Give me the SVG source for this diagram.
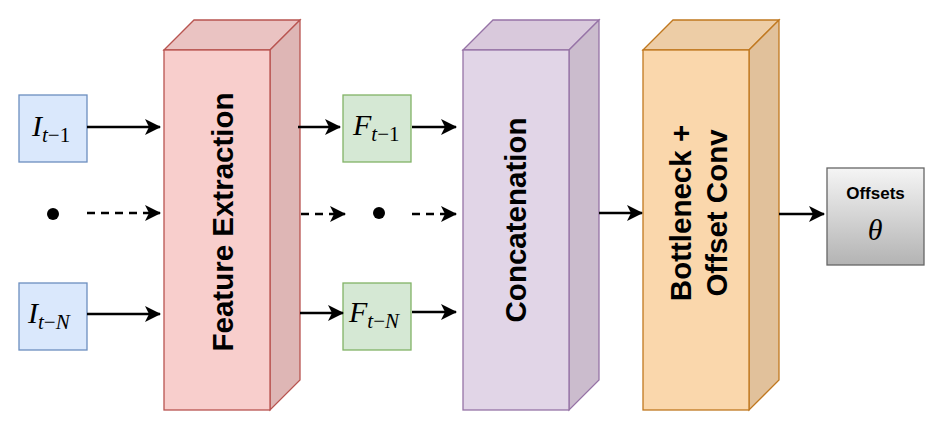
<svg xmlns="http://www.w3.org/2000/svg" width="938" height="424" viewBox="0 0 938 424">
<style>
.lbl{font-family:"Liberation Sans",Arial,sans-serif;font-weight:bold;font-size:29.5px;fill:#000;text-anchor:middle}
.m{font-family:"Liberation Serif","Times New Roman",serif;font-style:italic;font-size:30px;fill:#000}
.s{font-size:21px}
.c{stroke:#000;stroke-width:2.5;fill:none}
.d{stroke-dasharray:8 6}
</style>
<defs>
<marker id="ah" markerWidth="16" markerHeight="16" refX="15" refY="8" orient="auto" markerUnits="userSpaceOnUse"><path d="M0,0 L16,8 L0,16 L4,8 Z" fill="#000"/></marker>
<linearGradient id="g" x1="0" y1="0" x2="0" y2="1"><stop offset="0" stop-color="#f5f5f5"/><stop offset="1" stop-color="#b3b3b3"/></linearGradient>
</defs>
<g id="feature">
<path d="M164,50 L194,20 L300,20 L270,50 Z" fill="#eac3c2" stroke="#b85450" stroke-width="1.3"/>
<path d="M270,50 L300,20 L300,380 L270,410 Z" fill="#deb6b5" stroke="#b85450" stroke-width="1.3"/>
<rect x="164" y="50" width="106" height="360" fill="#f8cecc" stroke="#b85450" stroke-width="1.3"/>
<text class="lbl" transform="translate(233,222) rotate(-90)">Feature Extraction</text>
</g>
<g id="concat">
<path d="M463,50 L493,20 L599,20 L569,50 Z" fill="#d9c9dc" stroke="#9673a6" stroke-width="1.3"/>
<path d="M569,50 L599,20 L599,380 L569,410 Z" fill="#cbbccd" stroke="#9673a6" stroke-width="1.3"/>
<rect x="463" y="50" width="106" height="360" fill="#e1d5e7" stroke="#9673a6" stroke-width="1.3"/>
<text class="lbl" transform="translate(526,220) rotate(-90)">Concatenation</text>
</g>
<g id="bottleneck">
<path d="M643,50 L673,20 L779,20 L749,50 Z" fill="#edcda6" stroke="#c0781f" stroke-width="1.3"/>
<path d="M749,50 L779,20 L779,380 L749,410 Z" fill="#e1c19b" stroke="#c0781f" stroke-width="1.3"/>
<rect x="643" y="50" width="106" height="360" fill="#fad7ac" stroke="#c0781f" stroke-width="1.3"/>
<text class="lbl" transform="translate(691,213) rotate(-90)">Bottleneck +</text>
<text class="lbl" transform="translate(727,213) rotate(-90)">Offset Conv</text>
</g>
<g id="offsets">
<rect x="827" y="168" width="97" height="97" fill="url(#g)" stroke="#666" stroke-width="1.3"/>
<text x="875.5" y="199" font-family="Liberation Sans,Arial,sans-serif" font-weight="bold" font-size="17" text-anchor="middle">Offsets</text>
<text x="875" y="240" class="m" font-size="26" text-anchor="middle">θ</text>
</g>
<g id="i1"><rect x="19" y="95" width="68" height="67" fill="#dae8fc" stroke="#6c8ebf" stroke-width="1.3"/><text x="32" y="136" class="m">I<tspan class="s" dy="6">t</tspan><tspan class="s" font-style="normal">−1</tspan></text></g>
<g id="iN"><rect x="19" y="283" width="68" height="67" fill="#dae8fc" stroke="#6c8ebf" stroke-width="1.3"/><text x="28" y="323" class="m">I<tspan class="s" dy="6">t</tspan><tspan class="s" font-style="normal">−</tspan><tspan class="s">N</tspan></text></g>
<g id="f1"><rect x="343" y="95" width="68" height="67" fill="#d5e8d4" stroke="#82b366" stroke-width="1.3"/><text x="353" y="135" class="m">F<tspan class="s" dy="6">t</tspan><tspan class="s" font-style="normal">−1</tspan></text></g>
<g id="fN"><rect x="343" y="283" width="68" height="67" fill="#d5e8d4" stroke="#82b366" stroke-width="1.3"/><text x="349" y="322" class="m">F<tspan class="s" dy="6">t</tspan><tspan class="s" font-style="normal">−</tspan><tspan class="s">N</tspan></text></g>
<g id="dot1"><circle cx="53" cy="214" r="6" fill="#000"/></g>
<g id="dot2"><circle cx="379" cy="213" r="6" fill="#000"/></g>
<g id="connectors">
<line class="c" x1="87" y1="127" x2="160" y2="127" marker-end="url(#ah)"/>
<line class="c" x1="87" y1="314" x2="160" y2="314" marker-end="url(#ah)"/>
<line class="c d" x1="87" y1="213" x2="160" y2="213" marker-end="url(#ah)"/>
<line class="c" x1="298" y1="127" x2="340" y2="127" marker-end="url(#ah)"/>
<line class="c" x1="300" y1="313" x2="343" y2="313" marker-end="url(#ah)"/>
<line class="c d" x1="301" y1="214" x2="345" y2="214" marker-end="url(#ah)"/>
<line class="c" x1="412" y1="127" x2="456" y2="127" marker-end="url(#ah)"/>
<line class="c" x1="412" y1="312" x2="456" y2="312" marker-end="url(#ah)"/>
<line class="c d" x1="412" y1="214" x2="456" y2="214" marker-end="url(#ah)"/>
<line class="c" x1="599" y1="213" x2="642" y2="213" marker-end="url(#ah)"/>
<line class="c" x1="779" y1="214" x2="824" y2="214" marker-end="url(#ah)"/>
</g>
</svg>
